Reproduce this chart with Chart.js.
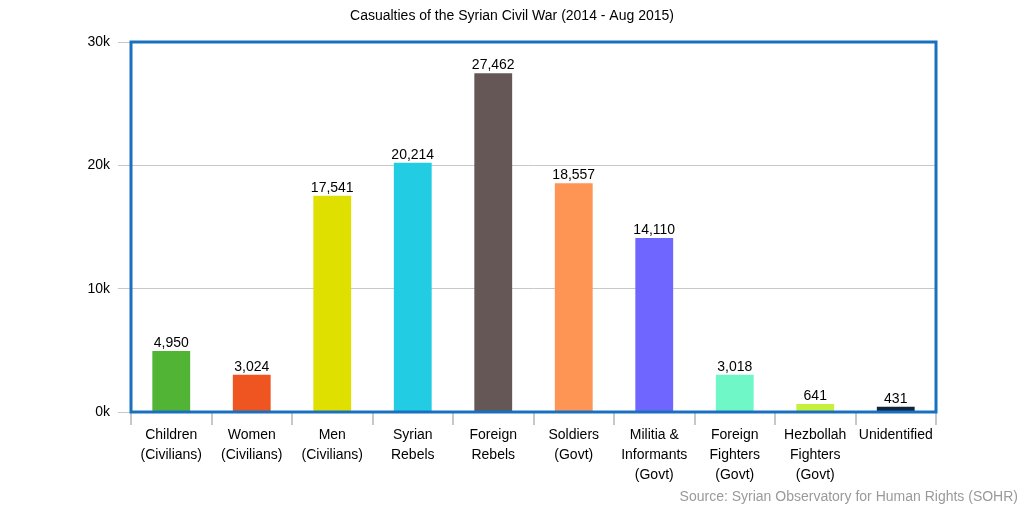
<!DOCTYPE html>
<html>
<head>
<meta charset="utf-8">
<script src="https://cdn.jsdelivr.net/npm/chart.js@4/dist/chart.umd.min.js"></script>
<style>
  html, body { margin: 0; padding: 0; background: #fff; }
  #wrap { width: 1024px; height: 512px; }
</style>
</head>
<body>
<div id="wrap"><canvas id="chart" width="1024" height="512"></canvas></div>
<script>
// data
const categories = [
  ["Children", "(Civilians)"],
  ["Women", "(Civilians)"],
  ["Men", "(Civilians)"],
  ["Syrian", "Rebels"],
  ["Foreign", "Rebels"],
  ["Soldiers", "(Govt)"],
  ["Militia &", "Informants", "(Govt)"],
  ["Foreign", "Fighters", "(Govt)"],
  ["Hezbollah", "Fighters", "(Govt)"],
  ["Unidentified"]
];
const casualties = [4950, 3024, 17541, 20214, 27462, 18557, 14110, 3018, 641, 431];
const barColors = [
  "#52b435", "#ee5520", "#dfe000", "#22cce3", "#655755",
  "#ff9555", "#6f66ff", "#6ff7c8", "#c6f03a", "#10253f"
];
const yTicks = [0, 10000, 20000, 30000];
const chartTitle = "Casualties of the Syrian Civil War (2014 - Aug 2015)";
const sourceText = "Source: Syrian Observatory for Human Rights (SOHR)";

const FONT = "Arial, 'Liberation Sans', sans-serif";

// border, value labels, title and source
const extras = {
  id: "extras",
  afterDatasetsDraw(chart) {
    const ctx = chart.ctx;
    const area = chart.chartArea;
    ctx.save();
    // value above each bar
    ctx.font = "14px " + FONT;
    ctx.fillStyle = "#000";
    ctx.textAlign = "center";
    ctx.textBaseline = "bottom";
    chart.getDatasetMeta(0).data.forEach((bar, i) => {
      ctx.fillText(casualties[i].toLocaleString("en-US"), bar.x, bar.y - 1);
    });
    // blue frame round the plot area
    ctx.strokeStyle = "#1a70c0";
    ctx.lineWidth = 3;
    ctx.strokeRect(area.left, area.top, area.right - area.left, area.bottom - area.top);
    ctx.restore();
  },
  afterDraw(chart) {
    const ctx = chart.ctx;
    ctx.save();
    ctx.font = "14px " + FONT;
    ctx.fillStyle = "#000";
    ctx.textAlign = "center";
    ctx.textBaseline = "middle";
    ctx.fillText(chartTitle, 512, 16);
    ctx.fillStyle = "#9a9a9a";
    ctx.textAlign = "right";
    ctx.fillText(sourceText, 1018, 497);
    ctx.restore();
  }
};

new Chart(document.getElementById("chart"), {
  type: "bar",
  data: {
    labels: categories,
    datasets: [{
      data: casualties,
      backgroundColor: barColors,
      borderWidth: 0,
      barPercentage: 0.47,
      categoryPercentage: 1
    }]
  },
  options: {
    responsive: false,
    animation: false,
    layout: { padding: { top: 42, right: 88, left: 0, bottom: 0 } },
    plugins: {
      legend: { display: false },
      title: { display: false },
      tooltip: { enabled: false }
    },
    scales: {
      x: {
        offset: true,
        grid: {
          offset: true,
          drawOnChartArea: false,
          color: "#c8c8c8",
          tickLength: 13,
          lineWidth: 2
        },
        border: { display: false },
        ticks: {
          color: "#000",
          font: { size: 14, family: FONT, lineHeight: 1.43 },
          padding: 0,
          maxRotation: 0,
          autoSkip: false
        },
        afterFit(scale) { scale.height = 100; }
      },
      y: {
        min: 0,
        max: 30000,
        afterBuildTicks(scale) { scale.ticks = yTicks.map(v => ({ value: v })); },
        grid: {
          color: "#c8c8c8",
          tickLength: 13,
          lineWidth: 1
        },
        border: { display: false },
        ticks: {
          color: "#000",
          font: { size: 14, family: FONT },
          padding: 8,
          callback: (v) => (v / 1000) + "k"
        },
        afterFit(scale) { scale.width = 131; }
      }
    }
  },
  plugins: [extras]
});
</script>
</body>
</html>
